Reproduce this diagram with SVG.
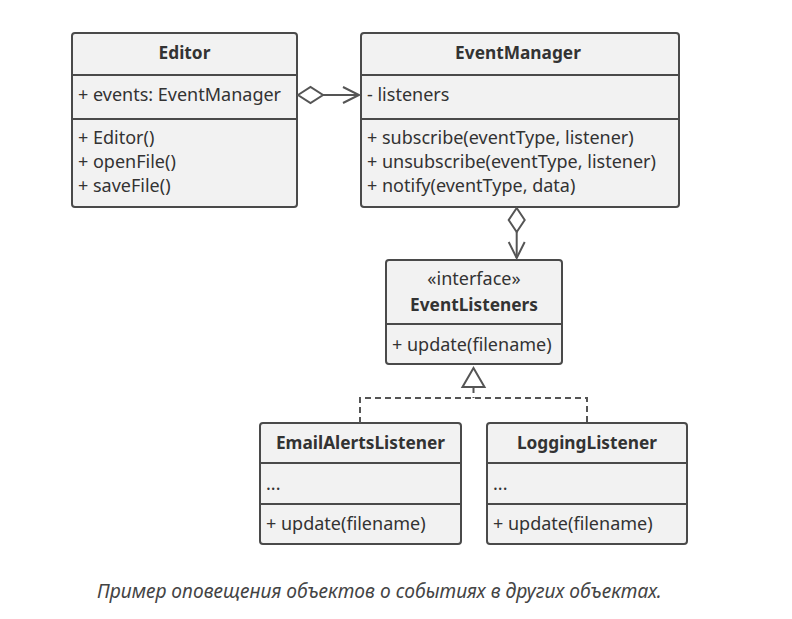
<svg xmlns="http://www.w3.org/2000/svg" width="792" height="619" viewBox="0 0 792 619">
<style>
.box{fill:#f2f2f2;stroke:#4a4a4a;stroke-width:2}
.div{stroke:#4a4a4a;stroke-width:2}
.t{font-family:"Noto Sans","Open Sans",sans-serif;font-size:18px;fill:#333}
.b{font-weight:bold;text-anchor:middle;font-size:17.3px}
.c{text-anchor:middle}
.ln{fill:none;stroke:#555;stroke-width:2}
.dash{fill:none;stroke:#555;stroke-width:2;stroke-dasharray:6 4}
.cap{font-family:"Noto Sans","Open Sans",sans-serif;font-size:19.2px;font-style:italic;fill:#444}
</style>
<rect width="792" height="619" fill="#fff"/>
<g id="Editor">
<rect class="box" x="72" y="33" width="225" height="174" rx="3"/>
<line class="div" x1="72" y1="75" x2="297" y2="75"/>
<line class="div" x1="72" y1="119" x2="297" y2="119"/>
<text class="t b" x="184.5" y="59">Editor</text>
<text class="t" x="78" y="101">+ events: EventManager</text>
<text class="t" x="78" y="144">+ Editor()</text>
<text class="t" x="78" y="168">+ openFile()</text>
<text class="t" x="78" y="192">+ saveFile()</text>
</g>
<g id="EventManager">
<rect class="box" x="361" y="33" width="318" height="174" rx="3"/>
<line class="div" x1="361" y1="75" x2="679" y2="75"/>
<line class="div" x1="361" y1="119" x2="679" y2="119"/>
<text class="t b" x="518" y="59">EventManager</text>
<text class="t" x="367" y="101">- listeners</text>
<text class="t" x="367" y="144">+ subscribe(eventType, listener)</text>
<text class="t" x="367" y="168">+ unsubscribe(eventType, listener)</text>
<text class="t" x="367" y="192">+ notify(eventType, data)</text>
</g>
<g id="EventListeners">
<rect class="box" x="386" y="260" width="176" height="104" rx="3"/>
<line class="div" x1="386" y1="324" x2="562" y2="324"/>
<text class="t c" x="474" y="285">«interface»</text>
<text class="t b" x="474" y="311">EventListeners</text>
<text class="t" x="392" y="351">+ update(filename)</text>
</g>
<g id="EmailAlertsListener">
<rect class="box" x="260" y="423" width="201" height="121" rx="3"/>
<line class="div" x1="260" y1="463" x2="461" y2="463"/>
<line class="div" x1="260" y1="504" x2="461" y2="504"/>
<text class="t b" x="360.5" y="449">EmailAlertsListener</text>
<text class="t" x="266" y="490">...</text>
<text class="t" x="266" y="530">+ update(filename)</text>
</g>
<g id="LoggingListener">
<rect class="box" x="487" y="423" width="200" height="121" rx="3"/>
<line class="div" x1="487" y1="463" x2="687" y2="463"/>
<line class="div" x1="487" y1="504" x2="687" y2="504"/>
<text class="t b" x="587" y="449">LoggingListener</text>
<text class="t" x="493" y="490">...</text>
<text class="t" x="493" y="530">+ update(filename)</text>
</g>
<g id="connectors">
<polygon points="298,95 310.5,87 323,95 310.5,103" fill="#fff" stroke="#555" stroke-width="2"/>
<line class="ln" x1="323" y1="95" x2="359" y2="95"/>
<polyline class="ln" points="343,87 359,95 343,103"/>
<polygon points="516.7,208 524.7,220 516.7,232 508.7,220" fill="#fff" stroke="#555" stroke-width="2"/>
<line class="ln" x1="516.7" y1="232" x2="516.7" y2="258"/>
<polyline class="ln" points="508.7,242 516.7,258 524.7,242"/>
<polygon points="473.5,368 484.5,387 462.5,387" fill="#fff" stroke="#555" stroke-width="2"/>
<line class="dash" x1="473.5" y1="387" x2="473.5" y2="398"/>
<polyline class="dash" points="360,423 360,398 587,398 587,423"/>
</g>
<text class="cap" x="97" y="598">Пример оповещения объектов о событиях в других объектах.</text>
</svg>
